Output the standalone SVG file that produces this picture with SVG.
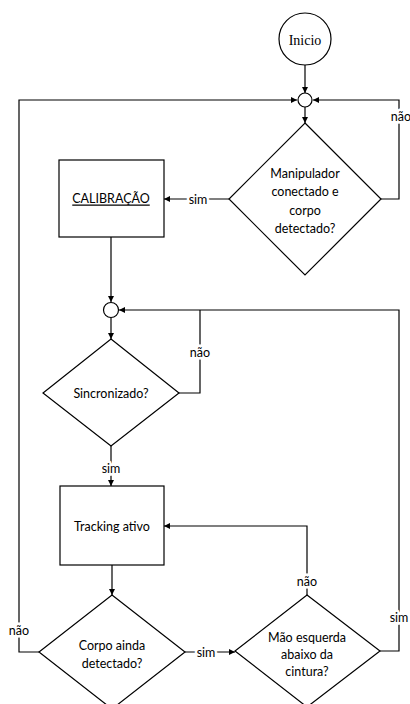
<svg xmlns="http://www.w3.org/2000/svg" width="410" height="704" viewBox="0 0 410 704">
<style>
.s{fill:#fff;stroke:#000;stroke-width:1.2}
.c{fill:none;stroke:#000;stroke-width:1.2}
.t{font-family:Lato,"Liberation Sans",sans-serif;font-size:12.5px;fill:#000;text-anchor:middle;dominant-baseline:central}
.l{font-family:Lato,"Liberation Sans",sans-serif;font-size:12.5px;fill:#000;text-anchor:middle;dominant-baseline:central;stroke:#fff;stroke-width:5;paint-order:stroke}
.sf{font-family:"Liberation Serif",serif;font-size:14px;fill:#000;text-anchor:middle;dominant-baseline:central}
</style>
<defs>
<marker id="a" viewBox="0 0 10 10" refX="10" refY="5" markerWidth="6" markerHeight="6" markerUnits="userSpaceOnUse" orient="auto"><path d="M0,0 L10,5 L0,10 z" fill="#000"/></marker>
</defs>
<rect width="410" height="704" fill="#fff"/>
<g id="connectors">
<path class="c" d="M305,65 V93" marker-end="url(#a)"/>
<path class="c" d="M305,107 V123" marker-end="url(#a)"/>
<path class="c" d="M381,199 H399 V100 H313" marker-end="url(#a)"/>
<path class="c" d="M229,199 H164" marker-end="url(#a)"/>
<path class="c" d="M111,237 V302" marker-end="url(#a)"/>
<path class="c" d="M111,318 V339" marker-end="url(#a)"/>
<path class="c" d="M179,393 H200 V310" />
<path class="c" d="M380,651 H399 V310 H119" marker-end="url(#a)"/>
<path class="c" d="M111,445 V486" marker-end="url(#a)"/>
<path class="c" d="M112,565 V595" marker-end="url(#a)"/>
<path class="c" d="M307,595 V526 H164" marker-end="url(#a)"/>
<path class="c" d="M185,652 H235" marker-end="url(#a)"/>
<path class="c" d="M39,652 H19 V100 H297" marker-end="url(#a)"/>
<text class="l" x="401" y="116">não</text>
<text class="l" x="198" y="199">sim</text>
<text class="l" x="200" y="352">não</text>
<text class="l" x="111" y="468">sim</text>
<text class="l" x="307" y="581">não</text>
<text class="l" x="399" y="617">sim</text>
<text class="l" x="206" y="652">sim</text>
<text class="l" x="19" y="630">não</text>
</g>
<g id="inicio"><circle class="s" cx="305" cy="39" r="26"/><text class="sf" x="305" y="40">Inicio</text></g>
<g id="merge1"><circle class="s" cx="305" cy="100" r="7"/></g>
<g id="manipulador"><polygon class="s" points="305,123 381,199 305,275 229,199"/>
<text class="t" x="305" y="173">Manipulador</text><text class="t" x="305" y="191.5">conectado e</text><text class="t" x="305" y="210">corpo</text><text class="t" x="305" y="228.5">detectado?</text></g>
<g id="calibracao"><rect class="s" x="59" y="160" width="105" height="77"/><text class="t" x="111" y="198" text-decoration="underline">CALIBRAÇÃO</text></g>
<g id="merge2"><circle class="s" cx="111" cy="310" r="7.5"/></g>
<g id="sincronizado"><polygon class="s" points="111,339 179,393 111,446 43,393"/><text class="t" x="111" y="393">Sincronizado?</text></g>
<g id="tracking"><rect class="s" x="60" y="486" width="104" height="79"/><text class="t" x="112" y="526">Tracking ativo</text></g>
<g id="corpo"><polygon class="s" points="112,595 185,652 112,709 39,652"/><text class="t" x="112" y="645">Corpo ainda</text><text class="t" x="112" y="663">detectado?</text></g>
<g id="mao"><polygon class="s" points="307,595 380,651 307,707 235,651"/><text class="t" x="307" y="637">Mão esquerda</text><text class="t" x="307" y="654">abaixo da</text><text class="t" x="307" y="671">cintura?</text></g>
</svg>
